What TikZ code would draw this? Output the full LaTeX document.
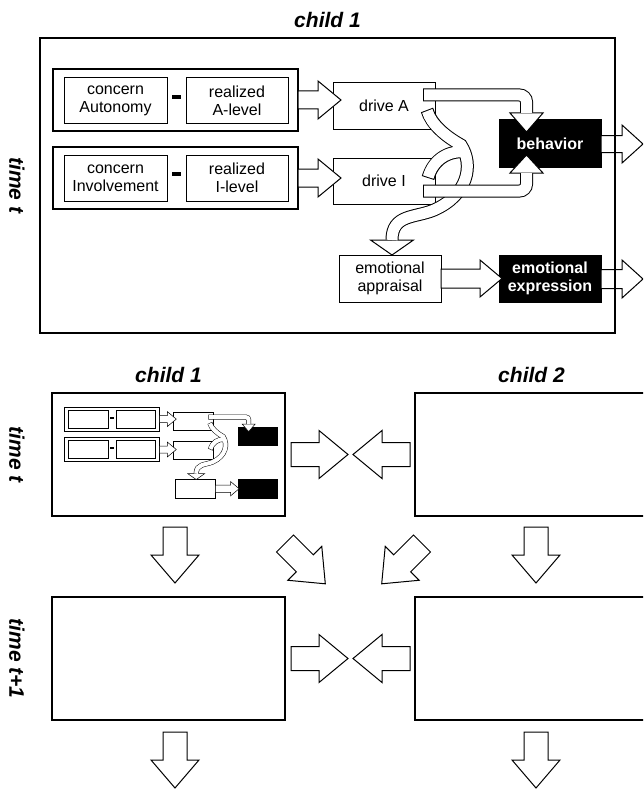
\documentclass[tikz,border=0pt]{standalone}
\usepackage{fontspec}
\setmainfont{Liberation Sans}
\usetikzlibrary{positioning,calc}

\newif\ifwithtext
\newcommand{\mlw}{1pt}   % line width inside a child model
\newcommand{\msc}{1}     % scale of a child model
\newcommand{\mtext}[1]{\ifwithtext#1\fi}

\tikzset{
  mbox/.style={draw, fill=white, line width=\mlw, minimum width=102pt, minimum height=46pt,
    inner sep=0pt, align=center, font=\fontsize{16}{18}\selectfont},
  mdark/.style={mbox, fill=black, text=white, font=\fontsize{16}{18}\selectfont\bfseries},
  mgroup/.style={draw, line width=1.4*\mlw, minimum width=245pt, minimum height=62pt, inner sep=0pt},
  blockarrow/.style={draw, fill=white, line width=\mlw},
  bandout/.style={draw=black, line width=13pt*\msc},
  bandin/.style={draw=white, line width=13pt*\msc-2*\mlw},
  frame/.style={draw, line width=1.6pt, inner sep=0pt, outer sep=0pt},
  title/.style={font=\fontsize{21}{24}\selectfont\bfseries\itshape},
}

% block arrow: tail, angle, shaft length, head length, shaft width, head width
\newcommand{\barrow}[6]{%
  \draw[blockarrow, shift={(#1)}, rotate=#2] (0,-#5/2) -- (#3,-#5/2) -- (#3,-#6/2)
    -- (#3+#4,0) -- (#3,#6/2) -- (#3,#5/2) -- (0,#5/2) -- cycle;}
% arrow head only: base, angle, length, width
\newcommand{\bhead}[4]{%
  \draw[blockarrow, shift={(#1)}, rotate=#2] (0,-#4/2) -- (#3,0) -- (0,#4/2) -- cycle;}

\newcommand{\childmodel}[1]{%
  \node[mgroup] (#1grpA) at (175.5,100) {};
  \node[mgroup] (#1grpI) at (175.5,178) {};
  \node[mbox, minimum width=103pt] (#1conA) at (115.5,101) {\mtext{concern\\Autonomy}};
  \node[mbox] (#1reaA) at (237,101) {\mtext{realized\\A-level}};
  \node[mbox, minimum width=103pt] (#1conI) at (115.5,178) {\mtext{concern\\Involvement}};
  \node[mbox] (#1reaI) at (237,178) {\mtext{realized\\I-level}};
  \fill (172,95) rectangle (181,99);
  \fill (172,172) rectangle (181,176);
  \node[mbox] (#1drvA) at (384,106) {\mtext{drive A}};
  \node[mbox] (#1drvI) at (384,181) {\mtext{drive I}};
  \node[mbox, minimum height=47pt] (#1appr) at (390,278.5) {\mtext{emotional\\appraisal}};
  \node[mdark, minimum height=47pt] (#1beh) at (550,143.5) {\mtext{behavior}};
  \node[mdark, minimum height=47pt] (#1expr) at (550,278.5) {\mtext{emotional\\expression}};
  \barrow{298,100}{0}{20}{23}{18}{38}
  \barrow{298,178}{0}{20}{23}{18}{38}
  \barrow{441,278.5}{0}{39}{22}{19}{37}
  \ifwithtext
    \barrow{601,144}{0}{21}{21}{17}{38}
    \barrow{601,279}{0}{21}{21}{19}{38}
  \fi
  % drives -> appraisal
  \draw[bandout] (427,110) .. controls (431,124) and (445,136) .. (461,145)
    .. controls (474,165) and (468,195) .. (434,210)
    .. controls (415,218) and (392,214) .. (392,240);
  \draw[bandout] (428,178) .. controls (433,160) and (448,150) .. (466,152);
  \bhead{392,240}{-90}{15}{43}
  \draw[bandin, shorten <=\mlw] (427,110) .. controls (431,124) and (445,136) .. (461,145)
    .. controls (474,165) and (468,195) .. (434,210)
    .. controls (415,218) and (392,214) .. (392,240);
  \draw[bandin, shorten <=\mlw] (428,178) .. controls (433,160) and (448,150) .. (466,152);
  % drives -> behavior
  \draw[bandout, rounded corners=7pt*\msc] (423,95) -- (526.5,95) -- (526.5,113);
  \bhead{526.5,113}{-90}{19}{33}
  \draw[bandin, rounded corners=7pt*\msc, shorten <=\mlw] (423,95) -- (526.5,95) -- (526.5,113);
  \ifwithtext
    \draw[bandout, rounded corners=7pt*\msc] (423,191) -- (526.5,191) -- (526.5,173);
    \bhead{526.5,173}{90}{18}{33}
    \draw[bandin, rounded corners=7pt*\msc, shorten <=\mlw] (423,191) -- (526.5,191) -- (526.5,173);
  \fi
}

\begin{document}
\begin{tikzpicture}[x=1pt,y=-1pt]
\useasboundingbox (0,0) rectangle (643,789);
\clip (0,0) rectangle (643,789);

% one child, time t
\begin{scope}
  \withtexttrue
  \childmodel{}
\end{scope}
\node[frame, minimum width=575pt, minimum height=295pt] (c1big) at (327.5,185.5) {};
\node[title] (tbig) at ($(c1big.north)+(0,-18)$) {child 1};
\node[title, rotate=-90] (timebig) at (17,185.5) {time t};

% two children, time t and t+1
\begin{scope}[shift={(43.33,380.09)}, scale=0.39, transform shape]
  \renewcommand{\mlw}{0.5pt}\renewcommand{\msc}{0.39}
  \childmodel{s}
\end{scope}
\node[frame, minimum width=233pt, minimum height=123pt] (c1t) at (168.5,454.5) {};
\node[frame, minimum width=233pt, minimum height=123pt] (c2t) at (531.5,454.5) {};
\node[frame, minimum width=233pt, minimum height=123pt] (c1n) at (168.5,658.5) {};
\node[frame, minimum width=233pt, minimum height=123pt] (c2n) at (531.5,658.5) {};
\node[title] (tc1) at ($(c1t.north)+(0,-18)$) {child 1};
\node[title] (tc2) at ($(c2t.north)+(0,-18)$) {child 2};
\node[title, rotate=-90] (timet) at (17,454.5) {time t};
\node[title, rotate=-90] (timen) at (17,658.5) {time t+1};

\barrow{$(c1t.east)+(6,0)$}{0}{28}{29}{24}{48}
\barrow{$(c2t.west)+(-5,0)$}{180}{28}{29}{24}{48}
\barrow{$(c1n.east)+(6,0)$}{0}{28}{29}{24}{48}
\barrow{$(c2n.west)+(-5,0)$}{180}{28}{29}{24}{48}
\barrow{$(c1t.south)+(6.5,11)$}{-90}{28}{28}{24}{48}
\barrow{$(c2t.south)+(4.5,11)$}{-90}{28}{28}{24}{48}
\barrow{$(c1n.south)+(6.5,12)$}{-90}{28}{28}{24}{48}
\barrow{$(c2n.south)+(4.5,12)$}{-90}{28}{28}{24}{48}
\barrow{$(c1t.south east)+(0,27.5)$}{-45}{28}{29}{24}{48}
\barrow{$(c2t.south west)+(7,27.5)$}{-135}{28}{29}{24}{48}
\end{tikzpicture}
\end{document}
